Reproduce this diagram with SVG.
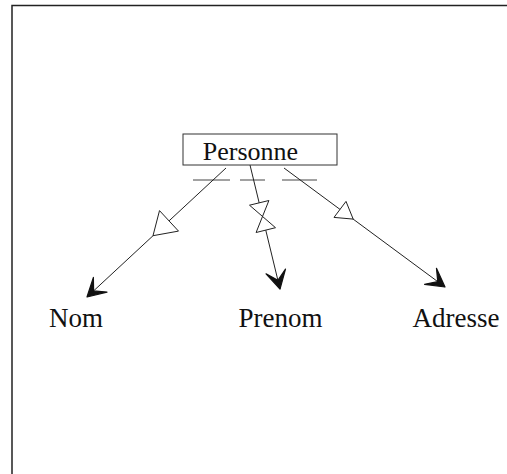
<svg xmlns="http://www.w3.org/2000/svg" width="507" height="474" viewBox="0 0 507 474">
  <style>
    .lbl { font-family: "Liberation Serif", "Times New Roman", serif; fill: #111; text-anchor: middle; }
    .edge { stroke: #222; stroke-width: 1; fill: none; }
    .sym { stroke: #222; stroke-width: 1; fill: #fff; }
    .tick { stroke: #444; stroke-width: 1; }
    .frame { stroke: #222; stroke-width: 1.5; fill: none; }
  </style>
  <defs>
    <marker id="barb" markerUnits="userSpaceOnUse" markerWidth="24" markerHeight="24" refX="0" refY="0" viewBox="-20 -12 24 24" orient="auto" overflow="visible">
      <path d="M0,0 L-18,-10 L-9,0 L-18,10 Z" fill="#111" stroke="#111" stroke-width="1.2" stroke-linejoin="round"/>
    </marker>
  </defs>
  <rect width="507" height="474" fill="#fff"/>
  <path class="frame" d="M12,474 L12,5.5 L507,5.5"/>

  <g id="connectors">
    <line class="tick" x1="193" y1="180" x2="230" y2="180"/>
    <line class="tick" x1="240" y1="180" x2="265" y2="180"/>
    <line class="tick" x1="282" y1="180" x2="317" y2="180"/>
    <!-- Personne -> Nom -->
    <line class="edge" x1="226" y1="168" x2="87" y2="297" marker-end="url(#barb)"/>
    <polygon class="sym" points="178.5,231.1 159.5,210.6 153,235.7"/>
    <!-- Personne -> Prenom -->
    <line class="edge" x1="250" y1="165" x2="280" y2="289" marker-end="url(#barb)"/>
    <path class="sym" d="M249.5,205.2 L268.9,200.5 L256.1,232.5 L275.5,227.7 Z"/>
    <!-- Personne -> Adresse -->
    <line class="edge" x1="284" y1="168" x2="445" y2="287" marker-end="url(#barb)"/>
    <polygon class="sym" points="346,201.4 334,217.4 353.2,219.1"/>
  </g>

  <g id="personne">
    <rect x="183" y="134" width="154" height="31" fill="none" stroke="#333" stroke-width="1"/>
    <text class="lbl" x="250.5" y="160" font-size="26">Personne</text>
  </g>
  <g id="nom">
    <text class="lbl" x="76" y="327" font-size="27">Nom</text>
  </g>
  <g id="prenom">
    <text class="lbl" x="280.5" y="327" font-size="27">Prenom</text>
  </g>
  <g id="adresse">
    <text class="lbl" x="456" y="327" font-size="27">Adresse</text>
  </g>
</svg>
